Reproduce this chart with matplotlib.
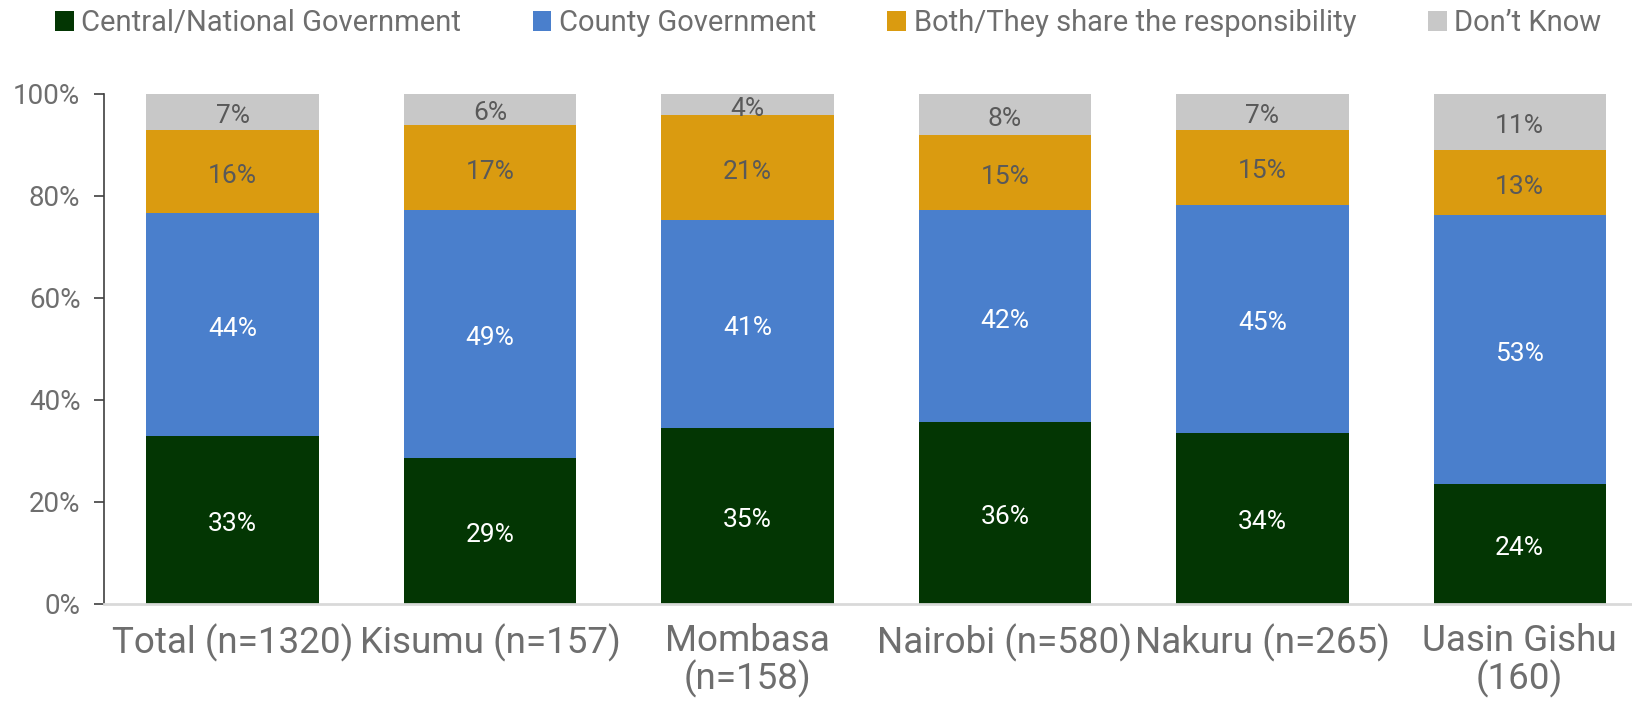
import numpy as np
import matplotlib.pyplot as plt

plt.rcParams['font.family'] = ['Roboto', 'DejaVu Sans']

regions = ["Total (n=1320)", "Kisumu (n=157)", "Mombasa\n(n=158)",
           "Nairobi (n=580)", "Nakuru (n=265)", "Uasin Gishu\n(160)"]
series = ["Central/National Government", "County Government",
          "Both/They share the responsibility", "Don\u2019t Know"]
central = [32.9, 28.6, 34.6, 35.6, 33.6, 23.6]
county = [43.8, 48.6, 40.6, 41.6, 44.7, 52.6]
both = [16.2, 16.8, 20.6, 14.7, 14.7, 12.8]
dont_know = [7.1, 6.0, 4.2, 8.1, 7.0, 11.0]

colors = ["#033603", "#4A7FCC", "#DA9B10", "#C8C8C8"]
label_colors = ["white", "white", "#595959", "#595959"]
grey = "#6E6E6E"

fig = plt.figure(figsize=(16.33, 7.05), dpi=100)
ax = fig.add_axes([104 / 1633, 101 / 705, 1529 / 1633, 510 / 705])

x = np.arange(len(regions))
bottom = np.zeros(len(regions))
for name, vals, c, lc in zip(series, [central, county, both, dont_know], colors, label_colors):
    vals = np.array(vals)
    bars = ax.bar(x, vals, 0.67, bottom=bottom, color=c, label=name, zorder=2)
    ax.bar_label(bars, labels=[f"{v:.0f}%" for v in vals], label_type='center',
                 color=lc, fontsize=19, padding=-3)
    bottom += vals

ax.set_xlim(-0.5, 5.44)
ax.set_ylim(0, 100)
ax.set_yticks(np.arange(0, 101, 20))
ax.set_yticklabels([f"{v}%" for v in range(0, 101, 20)])
ax.tick_params(axis='y', colors="#404040", labelcolor=grey, labelsize=20,
               length=7, width=1.2, pad=10)
ax.set_xticks(x)
ax.set_xticklabels(regions, fontsize=26.5, color=grey, linespacing=1.0)
ax.tick_params(axis='x', length=0, pad=14)

for s in ['top', 'right']:
    ax.spines[s].set_visible(False)
ax.spines['left'].set_color("#404040")
ax.spines['left'].set_linewidth(1.2)
ax.spines['bottom'].set_color("#D9D9D9")
ax.spines['bottom'].set_linewidth(2)

leg = fig.legend(loc='center', bbox_to_anchor=(0.507, 0.967), ncol=4, frameon=False,
                 fontsize=21, handlelength=0.65, handleheight=0.65, handletextpad=0.25,
                 columnspacing=2.45, borderaxespad=0)
for t in leg.get_texts():
    t.set_color(grey)

fig.savefig("out.png", dpi=100)
